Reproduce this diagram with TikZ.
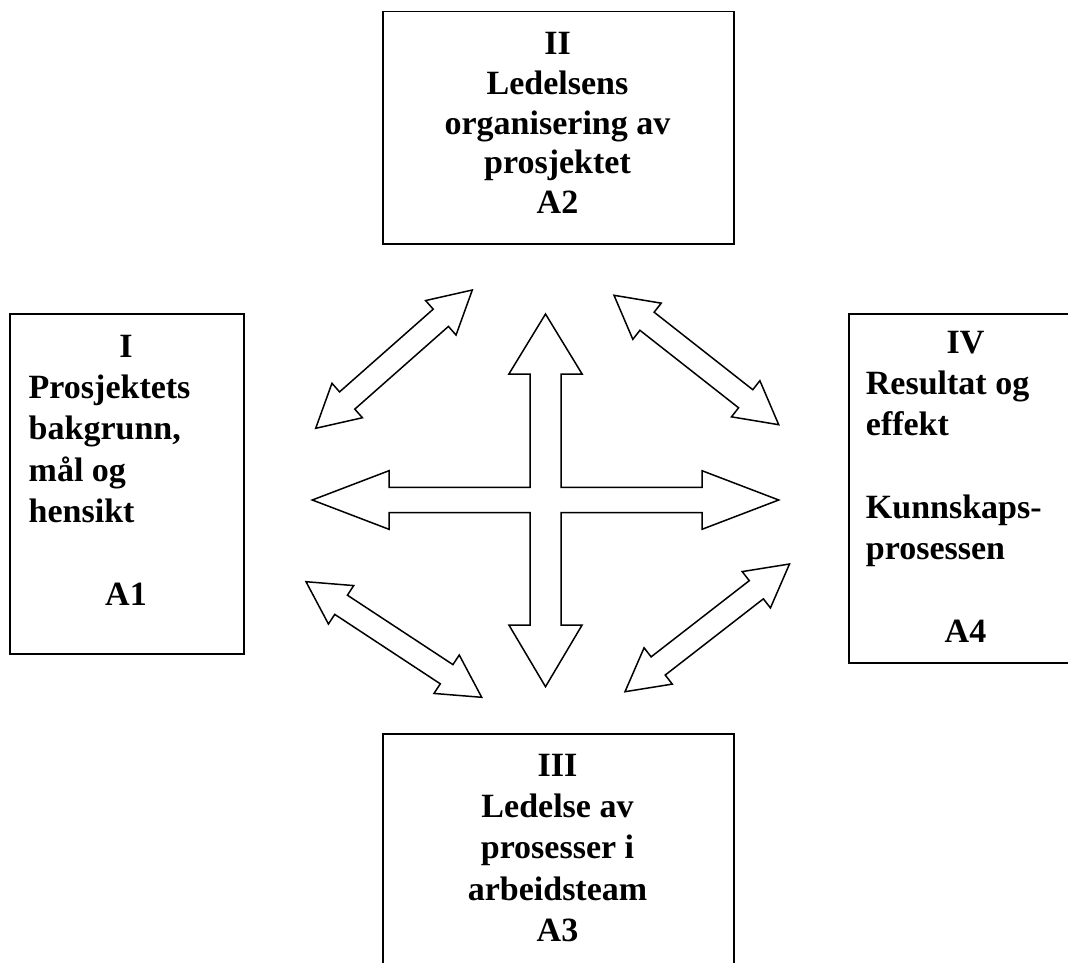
\documentclass[tikz,border=0pt]{standalone}
\usepackage{fontspec}
\setmainfont{Liberation Serif}
\usetikzlibrary{calc}

\tikzset{
  box/.style={draw, line width=1.8pt, rectangle, inner sep=0pt, anchor=north west},
  txt/.style={inner sep=0pt, font=\bfseries\fontsize{34}{41.3}\selectfont},
  blockarrow/.style={draw, line width=1.5pt, fill=white, line join=miter},
}

% double-headed block arrow between two named tip coordinates
\newcommand\twoheaded[2]{%
  \coordinate (#1-h) at ($(#1)!42pt!(#2)$);
  \coordinate (#2-h) at ($(#2)!42pt!(#1)$);
  \draw[blockarrow] (#1)
    -- ($(#1-h)!23pt!90:(#2)$)
    -- ($(#1-h)!11.5pt!90:(#2)$)
    -- ($(#2-h)!11.5pt!-90:(#1)$)
    -- ($(#2-h)!23pt!-90:(#1)$)
    -- (#2)
    -- ($(#2-h)!23pt!90:(#1)$)
    -- ($(#2-h)!11.5pt!90:(#1)$)
    -- ($(#1-h)!11.5pt!-90:(#2)$)
    -- ($(#1-h)!23pt!-90:(#2)$)
    -- cycle;
}

\begin{document}
\begin{tikzpicture}[x=1pt, y=-1pt]
  \useasboundingbox (0,0) rectangle (1068,963);
  \fill[white] (0,0) rectangle (1068,963);
  \clip (0,0) rectangle (1068,963);

  % frames
  \node[box, minimum width=233.4pt, minimum height=340pt] (b1) at (9.3,313.3) {};
  \node[box, minimum width=350.4pt, minimum height=232.6pt] (b2) at (382.3,10.7) {};
  \node[box, minimum width=350.4pt, minimum height=300pt] (b3) at (382.3,732.7) {};
  \node[box, minimum width=233.4pt, minimum height=348.4pt] (b4) at (848.3,313.3) {};

  % I
  \node[txt, anchor=base] (t1a) at (126,357.3) {I};
  \node[txt, anchor=base west] (t1b) at (28.5,398.6)
    {\begin{tabular}[t]{@{}l@{}}Prosjektets\\bakgrunn,\\mål og\\hensikt\end{tabular}};
  \node[txt, anchor=base] (t1c) at (126,605) {A1};

  % II
  \node[txt, font=\bfseries\fontsize{34}{39.6}\selectfont, anchor=base] (t2) at (557.5,55)
    {\begin{tabular}[t]{@{}c@{}}II\\Ledelsens\\organisering av\\prosjektet\\A2\end{tabular}};

  % III
  \node[txt, font=\bfseries\fontsize{34}{41.4}\selectfont, anchor=base] (t3) at (557.5,776)
    {\begin{tabular}[t]{@{}c@{}}III\\Ledelse av\\prosesser i\\arbeidsteam\\A3\end{tabular}};

  % IV
  \node[txt, anchor=base] (t4a) at (965.5,353.3) {IV};
  \node[txt, anchor=base west] (t4b) at (865.7,394.6)
    {\begin{tabular}[t]{@{}l@{}}Resultat og\\effekt\\ \\Kunnskaps-\\prosessen\end{tabular}};
  \node[txt, anchor=base] (t4c) at (965.5,642) {A4};

  % central four-way arrow
  \coordinate (hub) at (545.5,500);
  \draw[blockarrow]
    (545.5,314) -- (582.1,374) -- (561,374) -- (561,487.3)
    -- (702,487.3) -- (702,470.7) -- (778.7,500) -- (702,529.3) -- (702,512.7)
    -- (561,512.7) -- (561,625) -- (582.1,625) -- (545.5,686.7) -- (508.9,625)
    -- (530,625) -- (530,512.7) -- (389,512.7) -- (389,529.3) -- (312.3,500)
    -- (389,470.7) -- (389,487.3) -- (530,487.3) -- (530,374) -- (508.9,374)
    -- cycle;

  % diagonal double arrows
  \coordinate (d1a) at (315.7,428.3);
  \coordinate (d1b) at (472.3,290);
  \coordinate (d2a) at (614,295.3);
  \coordinate (d2b) at (778.7,424.7);
  \coordinate (d3a) at (306,581.7);
  \coordinate (d3b) at (481.7,697.3);
  \coordinate (d4a) at (625,691.7);
  \coordinate (d4b) at (789.5,564);
  \twoheaded{d1a}{d1b}
  \twoheaded{d2a}{d2b}
  \twoheaded{d3a}{d3b}
  \twoheaded{d4a}{d4b}
\end{tikzpicture}
\end{document}
